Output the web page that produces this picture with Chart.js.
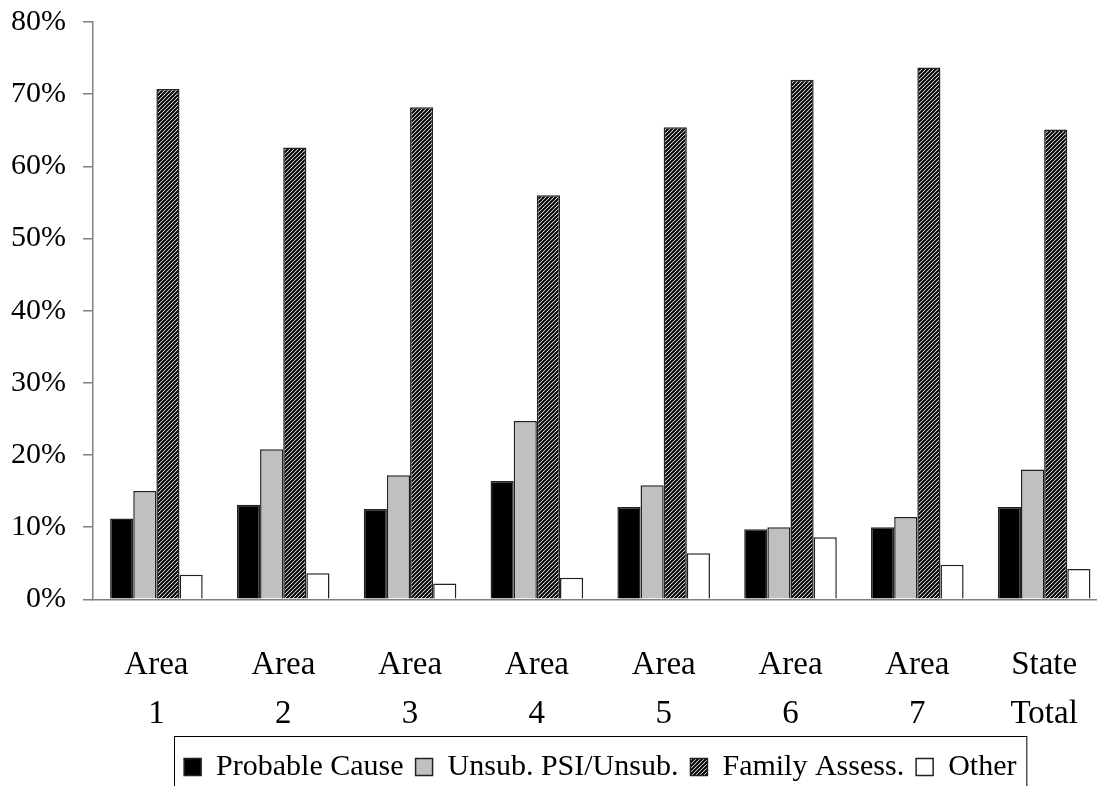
<!DOCTYPE html>
<html>
<head>
<meta charset="utf-8">
<script src="https://cdn.jsdelivr.net/npm/chart.js@4.4.1/dist/chart.umd.min.js"></script>
<style>
  html, body { margin: 0; padding: 0; background: #fff; overflow: hidden; }
  #wrap { width: 1118px; height: 805px; margin-left: -6px; margin-top: -13px; }
</style>
</head>
<body>
<div id="wrap"><canvas id="chart"></canvas></div>
<script>
// ==================== DATA ====================
const CATEGORIES = [['Area', '1'], ['Area', '2'], ['Area', '3'], ['Area', '4'],
                    ['Area', '5'], ['Area', '6'], ['Area', '7'], ['State', 'Total']];
const PROBABLE_CAUSE = [11.2, 13.1, 12.5, 16.4, 12.8, 9.7, 10.0, 12.8];
const UNSUB_PSI = [15.0, 20.8, 17.2, 24.7, 15.8, 10.0, 11.4, 18.0];
const FAMILY_ASSESS = [70.7, 62.6, 68.2, 56.0, 65.4, 72.0, 73.7, 65.1];
const OTHER = [3.4, 3.6, 2.2, 3.0, 6.4, 8.6, 4.8, 4.2];
const Y_TICKS = [0, 10, 20, 30, 40, 50, 60, 70, 80];

const SERIF = "'Liberation Serif', 'Times New Roman', serif";

// diagonal hatch fill for Family Assess.
function makeHatch() {
  const c = document.createElement('canvas');
  c.width = 4; c.height = 4;
  const g = c.getContext('2d');
  g.fillStyle = '#ffffff';
  g.fillRect(0, 0, 4, 4);
  g.strokeStyle = '#000000';
  g.lineWidth = 2;
  g.beginPath();
  g.moveTo(-1, 5); g.lineTo(5, -1);
  g.moveTo(-1, 1); g.lineTo(1, -1);
  g.moveTo(3, 5); g.lineTo(5, 3);
  g.stroke();
  return g.createPattern(c, 'repeat');
}
const hatch = makeHatch();

// ==================== LEGEND BORDER ====================
const legendBorder = {
  id: 'legendBorder',
  afterDraw(chart) {
    const lg = chart.legend;
    if (!lg || !lg.legendHitBoxes || !lg.legendHitBoxes.length) return;
    const boxes = lg.legendHitBoxes;
    const left = Math.min(...boxes.map(b => b.left)) - 10;
    const right = Math.max(...boxes.map(b => b.left + b.width)) + 10;
    const top = Math.min(...boxes.map(b => b.top)) - 16;
    const ctx = chart.ctx;
    ctx.save();
    ctx.strokeStyle = '#000';
    ctx.lineWidth = 1;
    ctx.strokeRect(Math.round(left) + 0.5, Math.round(top) + 0.5, right - left, 80);
    ctx.restore();
  }
};

// ==================== CHART ====================
const barStyle = { borderColor: '#222', borderWidth: 1.5, barPercentage: 1, categoryPercentage: 0.73 };

new Chart(document.getElementById('chart').getContext('2d'), {
  type: 'bar',
  data: {
    labels: CATEGORIES,
    datasets: [
      { label: 'Probable Cause', data: PROBABLE_CAUSE, backgroundColor: '#000000', ...barStyle },
      { label: 'Unsub. PSI/Unsub.', data: UNSUB_PSI, backgroundColor: '#c0c0c0', ...barStyle },
      { label: 'Family Assess.', data: FAMILY_ASSESS, backgroundColor: hatch, ...barStyle },
      { label: 'Other', data: OTHER, backgroundColor: '#ffffff', ...barStyle }
    ]
  },
  options: {
    responsive: true,
    maintainAspectRatio: false,
    animation: false,
    layout: { padding: { left: 0, top: 8, right: 3, bottom: 0 } },
    scales: {
      x: {
        grid: { display: false },
        border: { display: true, color: '#808080', width: 1.5 },
        afterFit: scale => { scale.height -= 33; },
        ticks: {
          color: '#000',
          padding: 34,
          maxRotation: 0,
          font: { family: SERIF, size: 33, lineHeight: 1.48 }
        }
      },
      y: {
        min: 0,
        max: 80,
        afterBuildTicks: axis => { axis.ticks = Y_TICKS.map(v => ({ value: v })); },
        grid: { drawOnChartArea: false, drawTicks: true, tickLength: 10, color: '#808080', lineWidth: 1.5 },
        border: { display: true, color: '#808080', width: 1.5 },
        ticks: {
          color: '#000',
          padding: 17,
          font: { family: SERIF, size: 30 },
          callback: v => v + '%'
        }
      }
    },
    plugins: {
      legend: {
        position: 'bottom',
        fullSize: false,
        labels: {
          color: '#000',
          boxWidth: 17,
          boxHeight: 17,
          padding: 12,
          font: { family: SERIF, size: 30 }
        }
      },
      tooltip: { enabled: false }
    }
  },
  plugins: [legendBorder]
});
</script>
</body>
</html>
